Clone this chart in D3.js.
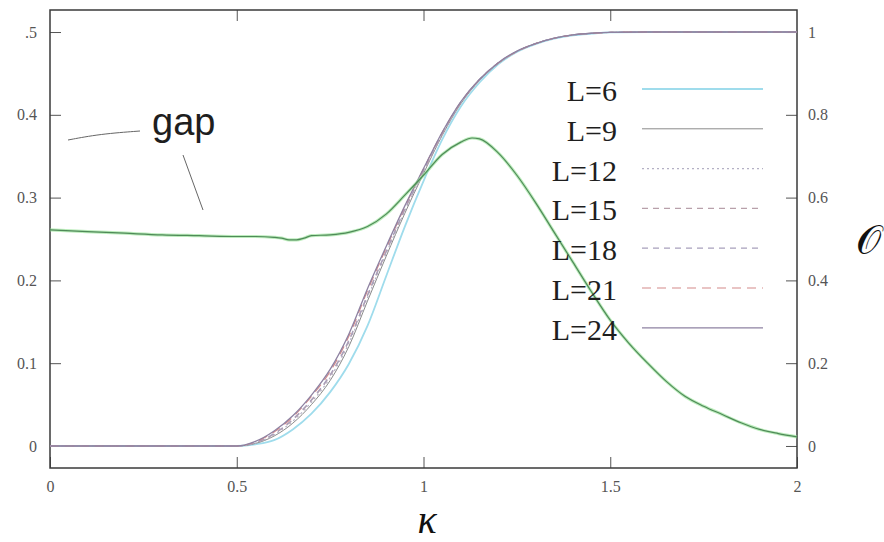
<!DOCTYPE html>
<html>
<head>
<meta charset="utf-8">
<script src="https://cdn.jsdelivr.net/npm/d3@7"></script>
<style>
  html, body { margin: 0; padding: 0; background: #ffffff; }
  svg { display: block; }
</style>
</head>
<body>
<svg id="chart" width="884" height="542"></svg>
<script>
// coupling strength grid shared by the order-parameter curves
const kappaO = [0, 0.1, 0.2, 0.3, 0.4, 0.5, 0.55, 0.6, 0.65, 0.7, 0.75, 0.8, 0.85, 0.9, 0.95,
  1.0, 1.05, 1.1, 1.15, 1.2, 1.25, 1.3, 1.35, 1.4, 1.45, 1.5, 1.6, 1.7, 1.8, 1.9, 2.0];

// order parameter O for each system size (right axis)
const orderL6  = [0,0,0,0,0,0, 0.004, 0.014, 0.040, 0.078, 0.130, 0.198, 0.290, 0.410, 0.530,
  0.640, 0.740, 0.820, 0.878, 0.922, 0.952, 0.971, 0.984, 0.992, 0.996, 0.999, 1, 1, 1, 1, 1];
const orderL9  = [0,0,0,0,0,0, 0.006, 0.024, 0.055, 0.100, 0.158, 0.240, 0.350, 0.458, 0.562,
  0.658, 0.750, 0.827, 0.883, 0.924, 0.953, 0.972, 0.985, 0.993, 0.997, 0.999, 1, 1, 1, 1, 1];
const orderL12 = [0,0,0,0,0,0, 0.007, 0.027, 0.060, 0.106, 0.165, 0.248, 0.358, 0.465, 0.568,
  0.662, 0.752, 0.829, 0.884, 0.925, 0.953, 0.972, 0.985, 0.993, 0.997, 0.999, 1, 1, 1, 1, 1];
const orderL15 = [0,0,0,0,0,0, 0.008, 0.029, 0.063, 0.110, 0.170, 0.253, 0.363, 0.469, 0.571,
  0.664, 0.754, 0.830, 0.885, 0.925, 0.953, 0.972, 0.985, 0.993, 0.997, 0.999, 1, 1, 1, 1, 1];
const orderL18 = [0,0,0,0,0,0, 0.008, 0.030, 0.065, 0.112, 0.172, 0.255, 0.365, 0.470, 0.572,
  0.665, 0.755, 0.830, 0.885, 0.925, 0.953, 0.972, 0.985, 0.993, 0.997, 0.999, 1, 1, 1, 1, 1];
const orderL21 = [0,0,0,0,0,0, 0.010, 0.034, 0.070, 0.120, 0.180, 0.265, 0.375, 0.478, 0.578,
  0.669, 0.757, 0.831, 0.885, 0.925, 0.953, 0.972, 0.985, 0.993, 0.997, 0.999, 1, 1, 1, 1, 1];
const orderL24 = [0,0,0,0,0,0, 0.011, 0.036, 0.073, 0.123, 0.185, 0.270, 0.380, 0.482, 0.580,
  0.670, 0.758, 0.832, 0.886, 0.926, 0.954, 0.972, 0.985, 0.993, 0.997, 0.999, 1, 1, 1, 1, 1];

const seriesNames = ["L=6", "L=9", "L=12", "L=15", "L=18", "L=21", "L=24"];
const seriesValues = [orderL6, orderL9, orderL12, orderL15, orderL18, orderL21, orderL24];

// energy gap (left axis)
const kappaGap = [0, 0.1, 0.2, 0.3, 0.4, 0.5, 0.55, 0.6, 0.62, 0.64, 0.66, 0.68, 0.7, 0.75, 0.8,
  0.85, 0.9, 0.95, 1.0, 1.05, 1.1, 1.13, 1.15, 1.2, 1.25, 1.3, 1.35, 1.4, 1.45, 1.5, 1.55, 1.6,
  1.65, 1.7, 1.75, 1.8, 1.85, 1.9, 1.95, 2.0];
const gapValues = [0.261, 0.259, 0.257, 0.255, 0.254, 0.253, 0.253, 0.252, 0.251, 0.249, 0.249,
  0.251, 0.254, 0.255, 0.258, 0.265, 0.280, 0.303, 0.327, 0.352, 0.367, 0.372, 0.371, 0.354,
  0.327, 0.294, 0.258, 0.222, 0.186, 0.152, 0.124, 0.100, 0.078, 0.060, 0.048, 0.038, 0.028,
  0.020, 0.015, 0.011];

// tick values and labels
const xTicks = [0, 0.5, 1, 1.5, 2];
const xTickLabels = ["0", "0.5", "1", "1.5", "2"];
const leftTicks = [0, 0.1, 0.2, 0.3, 0.4, 0.5];
const leftTickLabels = ["0", "0.1", "0.2", "0.3", "0.4", ".5"];
const rightTicks = [0, 0.2, 0.4, 0.6, 0.8, 1];
const rightTickLabels = ["0", "0.2", "0.4", "0.6", "0.8", "1"];

const styles = [
  { color: "#9fdcec", width: 1.8, dash: null },
  { color: "#8a8a8a", width: 1.0, dash: null },
  { color: "#b4b0c4", width: 1.2, dash: "2,3" },
  { color: "#b8a0aa", width: 1.2, dash: "6,5" },
  { color: "#a8a0bc", width: 1.2, dash: "6,5" },
  { color: "#d48a8a", width: 1.2, dash: "9,6" },
  { color: "#8e82a2", width: 1.3, dash: null }
];

const svg = d3.select("#chart");
const plotLeft = 50, plotRight = 797, plotTop = 10, plotBottom = 468;

const x = d3.scaleLinear().domain([0, 2]).range([plotLeft, plotRight]);
const yGap = d3.scaleLinear().domain([-0.0266, 0.5266]).range([plotBottom, plotTop]);
const yOrd = d3.scaleLinear().domain([-0.0532, 1.0532]).range([plotBottom, plotTop]);

const serif = "'Liberation Serif', 'Times New Roman', serif";
const tickColor = "#555";

// axes with inward ticks
const axisBottom = d3.axisBottom(x).tickValues(xTicks).tickSize(-11)
  .tickFormat((d, i) => xTickLabels[i]).tickPadding(13);
const axisTop = d3.axisTop(x).tickValues([0.5, 1, 1.5]).tickSize(-11).tickFormat("");
const axisLeft = d3.axisLeft(yGap).tickValues(leftTicks).tickSize(-11)
  .tickFormat((d, i) => leftTickLabels[i]).tickPadding(13);
const axisRight = d3.axisRight(yOrd).tickValues(rightTicks).tickSize(-11)
  .tickFormat((d, i) => rightTickLabels[i]).tickPadding(11);

function styleAxis(g) {
  g.select(".domain").remove();
  g.selectAll(".tick line").attr("stroke", tickColor).attr("stroke-width", 1);
  g.selectAll(".tick text").attr("fill", "#555").style("font-family", serif).style("font-size", "16px");
}

svg.append("g").attr("transform", `translate(0,${plotBottom})`).call(axisBottom).call(styleAxis);
svg.append("g").attr("transform", `translate(0,${plotTop})`).call(axisTop).call(styleAxis);
svg.append("g").attr("transform", `translate(${plotLeft},0)`).call(axisLeft).call(styleAxis);
svg.append("g").attr("transform", `translate(${plotRight},0)`).call(axisRight).call(styleAxis);

// plot frame
svg.append("rect").attr("x", plotLeft).attr("y", plotTop)
  .attr("width", plotRight - plotLeft).attr("height", plotBottom - plotTop)
  .attr("fill", "none").attr("stroke", "#3a3a3a").attr("stroke-width", 1.5);

// order-parameter curves
const ordLine = d3.line().x(d => x(d[0])).y(d => yOrd(d[1])).curve(d3.curveMonotoneX);
seriesValues.forEach((vals, i) => {
  const pts = kappaO.map((k, j) => [k, vals[j]]);
  const p = svg.append("path").datum(pts).attr("d", ordLine)
    .attr("fill", "none").attr("stroke", styles[i].color).attr("stroke-width", styles[i].width);
  if (styles[i].dash) p.attr("stroke-dasharray", styles[i].dash);
});

// energy gap curve: soft green halo under a darker core
const gapLine = d3.line().x(d => x(d[0])).y(d => yGap(d[1])).curve(d3.curveMonotoneX);
const gapPts = kappaGap.map((k, j) => [k, gapValues[j]]);
svg.append("path").datum(gapPts).attr("d", gapLine)
  .attr("fill", "none").attr("stroke", "#8ee08e").attr("stroke-width", 3.2).attr("stroke-opacity", 0.6);
svg.append("path").datum(gapPts).attr("d", gapLine)
  .attr("fill", "none").attr("stroke", "#4f8a58").attr("stroke-width", 1.2);

// legend
const legend = svg.append("g");
seriesNames.forEach((name, i) => {
  const ly = 89 + i * 39.8;
  legend.append("text").attr("x", 617).attr("y", ly + 12).attr("text-anchor", "end")
    .style("font-family", serif).style("font-size", "30px").attr("fill", "#1e1e1e").text(name);
  const l = legend.append("line").attr("x1", 642).attr("x2", 763).attr("y1", ly).attr("y2", ly)
    .attr("stroke", styles[i].color).attr("stroke-width", styles[i].width);
  if (styles[i].dash) l.attr("stroke-dasharray", styles[i].dash);
});

// "gap" annotation with pointer strokes
svg.append("text").attr("x", 152).attr("y", 135)
  .style("font-family", "'Liberation Sans', Arial, sans-serif").style("font-size", "38px")
  .attr("fill", "#1e1e1e").text("gap");
svg.append("path").attr("d", d3.line().curve(d3.curveBasis)([[68, 140], [100, 134], [140, 131]]))
  .attr("fill", "none").attr("stroke", "#666").attr("stroke-width", 1);
svg.append("line").attr("x1", 183).attr("y1", 155).attr("x2", 203).attr("y2", 210)
  .attr("stroke", "#666").attr("stroke-width", 1);

// axis titles
svg.append("text").attr("x", 427).attr("y", 533).attr("text-anchor", "middle")
  .style("font-family", serif).style("font-style", "italic").style("font-size", "40px")
  .attr("fill", "#111").text("κ");
svg.append("text").attr("x", 868).attr("y", 254).attr("text-anchor", "middle")
  .style("font-family", "'DejaVu Sans', 'Noto Sans', serif").style("font-size", "40px")
  .attr("fill", "#111").text("𝒪");
</script>
</body>
</html>
